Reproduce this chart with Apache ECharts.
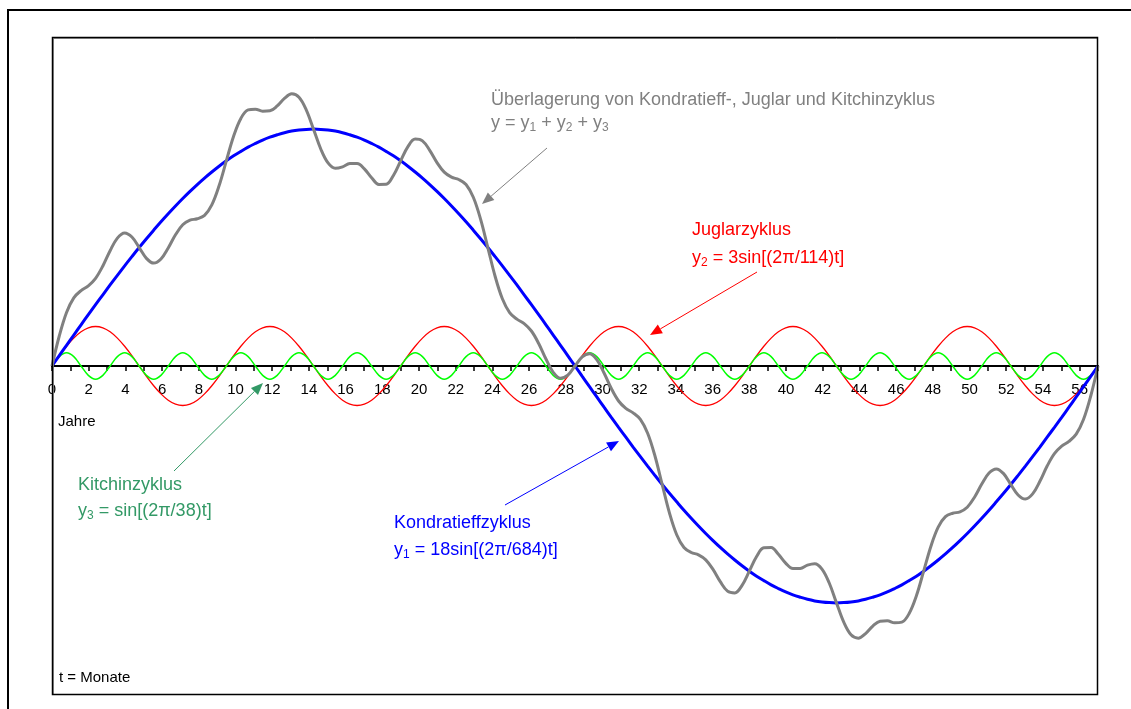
<!DOCTYPE html>
<html>
<head>
<meta charset="utf-8">
<script src="https://cdn.jsdelivr.net/npm/echarts@6/dist/echarts.min.js"></script>
<style>
  html, body { margin: 0; padding: 0; background: #fff; }
  #chart { width: 1131px; height: 709px; }
</style>
</head>
<body>
<div id="chart"></div>
<script>
// t in Monaten, Abstand 4.75 Monate (1/8 Kitchinzyklus)
const months = [
  0, 4.75, 9.5, 14.25, 19, 23.75, 28.5, 33.25,
  38, 42.75, 47.5, 52.25, 57, 61.75, 66.5, 71.25,
  76, 80.75, 85.5, 90.25, 95, 99.75, 104.5, 109.25,
  114, 118.75, 123.5, 128.25, 133, 137.75, 142.5, 147.25,
  152, 156.75, 161.5, 166.25, 171, 175.75, 180.5, 185.25,
  190, 194.75, 199.5, 204.25, 209, 213.75, 218.5, 223.25,
  228, 232.75, 237.5, 242.25, 247, 251.75, 256.5, 261.25,
  266, 270.75, 275.5, 280.25, 285, 289.75, 294.5, 299.25,
  304, 308.75, 313.5, 318.25, 323, 327.75, 332.5, 337.25,
  342, 346.75, 351.5, 356.25, 361, 365.75, 370.5, 375.25,
  380, 384.75, 389.5, 394.25, 399, 403.75, 408.5, 413.25,
  418, 422.75, 427.5, 432.25, 437, 441.75, 446.5, 451.25,
  456, 460.75, 465.5, 470.25, 475, 479.75, 484.5, 489.25,
  494, 498.75, 503.5, 508.25, 513, 517.75, 522.5, 527.25,
  532, 536.75, 541.5, 546.25, 551, 555.75, 560.5, 565.25,
  570, 574.75, 579.5, 584.25, 589, 593.75, 598.5, 603.25,
  608, 612.75, 617.5, 622.25, 627, 631.75, 636.5, 641.25,
  646, 650.75, 655.5, 660.25, 665, 669.75, 674.5, 679.25,
  684
];

const kondratieff = [
  0, 0.79, 1.57, 2.35, 3.13, 3.90, 4.66, 5.41,
  6.16, 6.89, 7.61, 8.31, 9.00, 9.67, 10.32, 10.96,
  11.57, 12.16, 12.73, 13.27, 13.79, 14.28, 14.74, 15.18,
  15.59, 15.97, 16.31, 16.63, 16.91, 17.17, 17.39, 17.57,
  17.73, 17.85, 17.93, 17.98, 18.00, 17.98, 17.93, 17.85,
  17.73, 17.57, 17.39, 17.17, 16.91, 16.63, 16.31, 15.97,
  15.59, 15.18, 14.74, 14.28, 13.79, 13.27, 12.73, 12.16,
  11.57, 10.96, 10.32, 9.67, 9.00, 8.31, 7.61, 6.89,
  6.16, 5.41, 4.66, 3.90, 3.13, 2.35, 1.57, 0.79,
  0, -0.79, -1.57, -2.35, -3.13, -3.90, -4.66, -5.41,
  -6.16, -6.89, -7.61, -8.31, -9.00, -9.67, -10.32, -10.96,
  -11.57, -12.16, -12.73, -13.27, -13.79, -14.28, -14.74, -15.18,
  -15.59, -15.97, -16.31, -16.63, -16.91, -17.17, -17.39, -17.57,
  -17.73, -17.85, -17.93, -17.98, -18.00, -17.98, -17.93, -17.85,
  -17.73, -17.57, -17.39, -17.17, -16.91, -16.63, -16.31, -15.97,
  -15.59, -15.18, -14.74, -14.28, -13.79, -13.27, -12.73, -12.16,
  -11.57, -10.96, -10.32, -9.67, -9.00, -8.31, -7.61, -6.89,
  -6.16, -5.41, -4.66, -3.90, -3.13, -2.35, -1.57, -0.79,
  0
];

const juglar = [
  0, 0.78, 1.5, 2.12, 2.6, 2.9, 3, 2.9,
  2.6, 2.12, 1.5, 0.78, 0, -0.78, -1.5, -2.12,
  -2.6, -2.9, -3, -2.9, -2.6, -2.12, -1.5, -0.78,
  0, 0.78, 1.5, 2.12, 2.6, 2.9, 3, 2.9,
  2.6, 2.12, 1.5, 0.78, 0, -0.78, -1.5, -2.12,
  -2.6, -2.9, -3, -2.9, -2.6, -2.12, -1.5, -0.78,
  0, 0.78, 1.5, 2.12, 2.6, 2.9, 3, 2.9,
  2.6, 2.12, 1.5, 0.78, 0, -0.78, -1.5, -2.12,
  -2.6, -2.9, -3, -2.9, -2.6, -2.12, -1.5, -0.78,
  0, 0.78, 1.5, 2.12, 2.6, 2.9, 3, 2.9,
  2.6, 2.12, 1.5, 0.78, 0, -0.78, -1.5, -2.12,
  -2.6, -2.9, -3, -2.9, -2.6, -2.12, -1.5, -0.78,
  0, 0.78, 1.5, 2.12, 2.6, 2.9, 3, 2.9,
  2.6, 2.12, 1.5, 0.78, 0, -0.78, -1.5, -2.12,
  -2.6, -2.9, -3, -2.9, -2.6, -2.12, -1.5, -0.78,
  0, 0.78, 1.5, 2.12, 2.6, 2.9, 3, 2.9,
  2.6, 2.12, 1.5, 0.78, 0, -0.78, -1.5, -2.12,
  -2.6, -2.9, -3, -2.9, -2.6, -2.12, -1.5, -0.78,
  0
];

const kitchin = [
  0, 0.71, 1, 0.71, 0, -0.71, -1, -0.71,
  0, 0.71, 1, 0.71, 0, -0.71, -1, -0.71,
  0, 0.71, 1, 0.71, 0, -0.71, -1, -0.71,
  0, 0.71, 1, 0.71, 0, -0.71, -1, -0.71,
  0, 0.71, 1, 0.71, 0, -0.71, -1, -0.71,
  0, 0.71, 1, 0.71, 0, -0.71, -1, -0.71,
  0, 0.71, 1, 0.71, 0, -0.71, -1, -0.71,
  0, 0.71, 1, 0.71, 0, -0.71, -1, -0.71,
  0, 0.71, 1, 0.71, 0, -0.71, -1, -0.71,
  0, 0.71, 1, 0.71, 0, -0.71, -1, -0.71,
  0, 0.71, 1, 0.71, 0, -0.71, -1, -0.71,
  0, 0.71, 1, 0.71, 0, -0.71, -1, -0.71,
  0, 0.71, 1, 0.71, 0, -0.71, -1, -0.71,
  0, 0.71, 1, 0.71, 0, -0.71, -1, -0.71,
  0, 0.71, 1, 0.71, 0, -0.71, -1, -0.71,
  0, 0.71, 1, 0.71, 0, -0.71, -1, -0.71,
  0, 0.71, 1, 0.71, 0, -0.71, -1, -0.71,
  0, 0.71, 1, 0.71, 0, -0.71, -1, -0.71,
  0
];

// Überlagerung y = y1 + y2 + y3
const overlay = [
  0, 2.28, 4.07, 5.18, 5.73, 6.09, 6.66, 7.60,
  8.76, 9.72, 10.11, 9.80, 9.00, 8.18, 7.82, 8.13,
  8.97, 9.97, 10.73, 11.08, 11.19, 11.45, 12.24, 13.69,
  15.59, 17.46, 18.81, 19.46, 19.51, 19.36, 19.39, 19.76,
  20.33, 20.68, 20.43, 19.47, 18.00, 16.49, 15.43, 15.02,
  15.13, 15.38, 15.39, 14.98, 14.31, 13.80, 13.81, 14.48,
  15.59, 16.67, 17.24, 17.11, 16.39, 15.46, 14.73, 14.35,
  14.17, 13.79, 12.82, 11.16, 9.00, 6.82, 5.11, 4.06,
  3.56, 3.22, 2.66, 1.71, 0.53, -0.48, -0.93, -0.70,
  0, 0.70, 0.93, 0.48, -0.53, -1.71, -2.66, -3.22,
  -3.56, -4.06, -5.11, -6.82, -9.00, -11.16, -12.82, -13.79,
  -14.17, -14.35, -14.73, -15.46, -16.39, -17.11, -17.24, -16.67,
  -15.59, -14.48, -13.81, -13.80, -14.31, -14.98, -15.39, -15.38,
  -15.13, -15.02, -15.43, -16.49, -18.00, -19.47, -20.43, -20.68,
  -20.33, -19.76, -19.39, -19.36, -19.51, -19.46, -18.81, -17.46,
  -15.59, -13.69, -12.24, -11.45, -11.19, -11.08, -10.73, -9.97,
  -8.97, -8.13, -7.82, -8.18, -9.00, -9.80, -10.11, -9.72,
  -8.76, -7.60, -6.66, -6.09, -5.73, -5.18, -4.07, -2.28,
  0
];

const FONT = '"Liberation Sans", Arial, sans-serif';

let myChart = echarts.init(document.getElementById('chart'));

function pairs(ys) {
    return months.map((t, i) => [t, ys[i]]);
}

// Beschriftung mit tiefgestellter Ziffer ({s|1})
function label(x, y, text, color) {
    return {
        type: 'text', x: x, y: y, z: 100,
        style: {
            text: text,
            fontSize: 18,
            fontFamily: FONT,
            fill: color,
            verticalAlign: 'middle',
            rich: {
                s: { fontSize: 12, fontFamily: FONT, fill: color, verticalAlign: 'top', padding: [10, 0, 0, 0] }
            }
        }
    };
}

function arrow(x1, y1, x2, y2, color) {
    let a = Math.atan2(y2 - y1, x2 - x1);
    let L = 12, W = 5;
    let bx = x2 - L * Math.cos(a), by = y2 - L * Math.sin(a);
    let px = -Math.sin(a), py = Math.cos(a);
    return [
        { type: 'line', z: 100, shape: { x1: x1, y1: y1, x2: bx, y2: by }, style: { stroke: color, lineWidth: 1 } },
        { type: 'polygon', z: 100, shape: { points: [[x2, y2], [bx + W * px, by + W * py], [bx - W * px, by - W * py]] }, style: { fill: color } }
    ];
}

let graphics = [
    // äußerer Rahmen
    { type: 'rect', shape: { x: 8, y: 10, width: 1300, height: 900 }, style: { fill: null, stroke: '#000', lineWidth: 2 } },
    // Rahmen des Diagramms: schwarz mit grauer Kante
    { type: 'rect', z: 90, shape: { x: 53.5, y: 38.5, width: 1044, height: 656 }, style: { fill: null, stroke: '#9a9a9a', lineWidth: 1 } },
    { type: 'rect', z: 91, shape: { x: 52.5, y: 37.5, width: 1045, height: 657 }, style: { fill: null, stroke: '#000', lineWidth: 1.5 } },

    label(491, 100, 'Überlagerung von Kondratieff-, Juglar und Kitchinzyklus', '#808080'),
    label(491, 123, 'y = y{s|1} + y{s|2} + y{s|3}', '#808080'),
    label(692, 230, 'Juglarzyklus', '#ff0000'),
    label(692, 258, 'y{s|2} = 3sin[(2π/114)t]', '#ff0000'),
    label(78, 485, 'Kitchinzyklus', '#339966'),
    label(78, 511, 'y{s|3} = sin[(2π/38)t]', '#339966'),
    label(394, 523, 'Kondratieffzyklus', '#0000ff'),
    label(394, 550, 'y{s|1} = 18sin[(2π/684)t]', '#0000ff'),

    { type: 'text', x: 58, y: 422, style: { text: 'Jahre', fontSize: 15, fontFamily: FONT, fill: '#000', verticalAlign: 'middle' } },
    { type: 'text', x: 59, y: 678, style: { text: 't = Monate', fontSize: 15, fontFamily: FONT, fill: '#000', verticalAlign: 'middle' } }
]
    .concat(arrow(547, 148, 482, 204, '#808080'))
    .concat(arrow(757, 272, 650, 335, '#ff0000'))
    .concat(arrow(174, 471, 263, 383, '#339966'))
    .concat(arrow(505, 505, 619, 441, '#0000ff'));

let option = {
    animation: false,
    backgroundColor: '#fff',
    grid: {
        left: 52, top: 37, right: 33, bottom: 14,
        containLabel: false,
        outerBoundsMode: 'none',
        show: false
    },
    xAxis: {
        type: 'value',
        position: 'bottom',
        offset: -329,   // Achse auf y = 0 (Mitte des Rasters)
        min: 0,
        max: 684,
        interval: 12,
        axisLine: { onZero: false, lineStyle: { color: '#000', width: 2 } },
        axisTick: { show: true, inside: false, length: 5, lineStyle: { color: '#000', width: 1.5 } },
        axisLabel: {
            margin: 16,
            color: '#000',
            fontSize: 15,
            fontFamily: FONT,
            formatter: function (v) {
                return v % 24 === 0 ? String(v / 12) : '';
            }
        },
        splitLine: { show: false }
    },
    yAxis: {
        type: 'value',
        min: -25,
        max: 25,
        axisLine: { show: false },
        axisTick: { show: false },
        axisLabel: { show: false },
        splitLine: { show: false }
    },
    series: [
        {
            name: 'Juglarzyklus', type: 'line', data: pairs(juglar),
            symbol: 'none', smooth: 0.37,
            lineStyle: { color: '#ff0000', width: 1.3 }
        },
        {
            name: 'Kitchinzyklus', type: 'line', data: pairs(kitchin),
            symbol: 'none', smooth: 0.37,
            lineStyle: { color: '#00ff00', width: 1.5 }
        },
        {
            name: 'Kondratieffzyklus', type: 'line', data: pairs(kondratieff),
            symbol: 'none', smooth: 0.37,
            lineStyle: { color: '#0000ff', width: 3 }
        },
        {
            name: 'Überlagerung', type: 'line', data: pairs(overlay),
            symbol: 'none', smooth: 0.37,
            lineStyle: { color: '#808080', width: 3 }
        }
    ],
    graphic: graphics
};

myChart.setOption(option);
</script>
</body>
</html>
